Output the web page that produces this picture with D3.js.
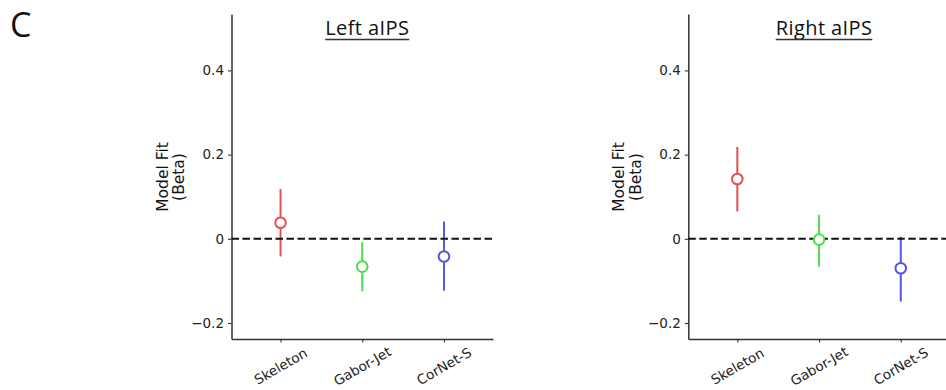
<!DOCTYPE html>
<html>
<head>
<meta charset="utf-8">
<script src="https://cdn.jsdelivr.net/npm/d3@7"></script>
<style>
  html, body { margin: 0; padding: 0; background: #fff; }
  svg { display: block; }
</style>
</head>
<body>
<svg id="chart" width="946" height="390"></svg>
<script>
// ---------- data ----------
const categories = ["Skeleton", "Gabor-Jet", "CorNet-S"];
const panelTitles = ["Left aIPS", "Right aIPS"];
const leftMeans  = [0.038, -0.066, -0.042];
const leftLower  = [-0.042, -0.125, -0.123];
const leftUpper  = [0.118, -0.008, 0.041];
const rightMeans = [0.142, -0.002, -0.070];
const rightLower = [0.065, -0.066, -0.149];
const rightUpper = [0.218, 0.057, 0.005];
const yTicks = [-0.2, 0, 0.2, 0.4];
const panelLetter = "C";

// ---------- style ----------
const seriesColors = ["#e0524f", "#4ddc4d", "#5656e4"];
const axisColor = "#333";
const textColor = "#222";
const titleFont = "'Open Sans', Lato, sans-serif";
const plotFont = "'DejaVu Sans', sans-serif";

const svg = d3.select("#chart");
svg.append("rect").attr("width", 946).attr("height", 390).attr("fill", "#fff");

svg.append("text")
  .attr("x", 10).attr("y", 37)
  .attr("font-family", titleFont)
  .attr("font-size", 34)
  .attr("fill", "#111")
  .text(panelLetter);

const panels = [
  { title: panelTitles[0], means: leftMeans, lower: leftLower, upper: leftUpper, x0: 231.5, yLabelX: 163 },
  { title: panelTitles[1], means: rightMeans, lower: rightLower, upper: rightUpper, x0: 688.3, yLabelX: 619.5 }
];

const plotTop = 14, plotBottom = 339, axisW = 261.5;
const y = d3.scaleLinear().domain([-0.238, 0.534]).range([plotBottom, plotTop]);

panels.forEach(p => {
  const g = svg.append("g");
  const x = d3.scalePoint().domain(categories).range([p.x0, p.x0 + axisW]).padding(0.6);

  // y axis
  const yAxis = d3.axisLeft(y).tickValues(yTicks).tickSize(3.5).tickSizeOuter(0).tickPadding(4)
    .tickFormat(d => d === 0 ? "0" : d3.format(".1f")(d));
  const ya = g.append("g").attr("transform", `translate(${p.x0},0)`).call(yAxis);
  ya.attr("font-family", plotFont);
  ya.select(".domain").attr("stroke", axisColor).attr("stroke-width", 1.5);
  ya.selectAll(".tick line").attr("stroke", axisColor).attr("stroke-width", 1.1);
  ya.selectAll(".tick text").attr("font-size", 13.5).attr("fill", textColor);

  // x axis
  const xAxis = d3.axisBottom(x).tickSize(3.5).tickSizeOuter(0).tickFormat(() => "");
  const xa = g.append("g").attr("transform", `translate(0,${plotBottom})`).call(xAxis);
  xa.select(".domain").attr("stroke", axisColor).attr("stroke-width", 1.5);
  xa.selectAll(".tick line").attr("stroke", axisColor).attr("stroke-width", 1.1);

  // rotated x labels
  g.selectAll(".xlab").data(categories).enter().append("text")
    .attr("class", "xlab")
    .attr("transform", d => `translate(${x(d)},${plotBottom + 27}) rotate(-30)`)
    .attr("text-anchor", "middle")
    .attr("dominant-baseline", "central")
    .attr("font-family", plotFont)
    .attr("font-size", 13.5)
    .attr("fill", textColor)
    .text(d => d);

  // y label (two lines)
  const yl = g.append("text")
    .attr("transform", `translate(${p.yLabelX},177) rotate(-90)`)
    .attr("text-anchor", "middle")
    .attr("font-family", plotFont)
    .attr("font-size", 15.5)
    .attr("fill", "#111");
  yl.append("tspan").attr("x", 0).attr("dy", "0.3em").text("Model Fit");
  yl.append("tspan").attr("x", 0).attr("dy", "1.08em").text("(Beta)");

  // error bars
  g.selectAll(".err").data(categories).enter().append("line")
    .attr("x1", d => x(d)).attr("x2", d => x(d))
    .attr("y1", (d, i) => y(p.lower[i])).attr("y2", (d, i) => y(p.upper[i]))
    .attr("stroke", (d, i) => seriesColors[i]).attr("stroke-width", 2);

  // zero line
  g.append("line")
    .attr("x1", p.x0).attr("x2", p.x0 + axisW)
    .attr("y1", y(0)).attr("y2", y(0))
    .attr("stroke", "#111").attr("stroke-width", 2)
    .attr("stroke-dasharray", "7.5,3.5");

  // markers
  g.selectAll(".pt").data(categories).enter().append("circle")
    .attr("cx", d => x(d)).attr("cy", (d, i) => y(p.means[i]))
    .attr("r", 5.3)
    .attr("fill", "#fff")
    .attr("stroke", (d, i) => seriesColors[i]).attr("stroke-width", 2);

  // title with underline
  const tx = x(categories[1]) + 5;
  const t = g.append("text")
    .attr("x", tx).attr("y", 35)
    .attr("text-anchor", "middle")
    .attr("font-family", titleFont)
    .attr("font-size", 20)
    .attr("letter-spacing", 0.4)
    .attr("fill", "#111")
    .text(p.title);
  const w = t.node().getComputedTextLength();
  g.append("line")
    .attr("x1", tx - w / 2).attr("x2", tx + w / 2)
    .attr("y1", 39.5).attr("y2", 39.5)
    .attr("stroke", "#333").attr("stroke-width", 1.4);
});
</script>
</body>
</html>
